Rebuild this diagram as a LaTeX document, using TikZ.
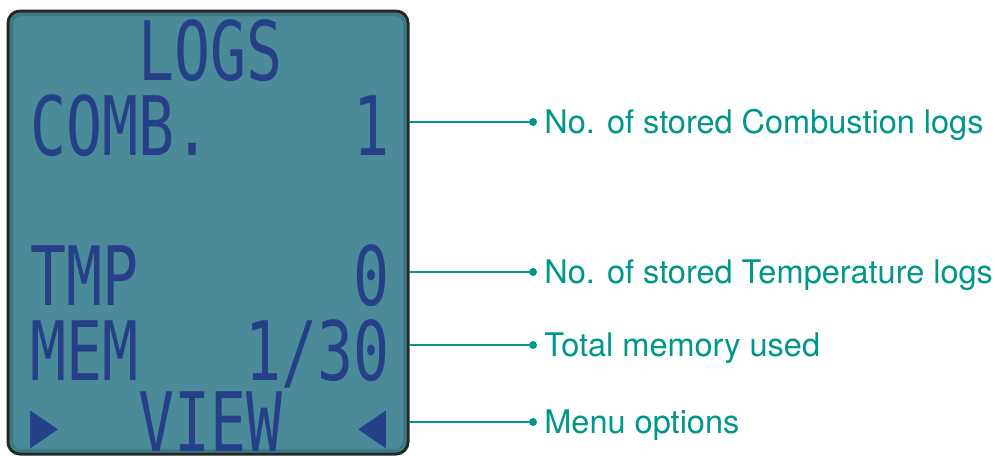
\documentclass[tikz,border=0pt]{standalone}
\usepackage{fontspec}
\setmainfont{TeX Gyre Heros}
\newfontfamily\lcdfont[FakeStretch=0.73]{DejaVu Sans Mono}
\usetikzlibrary{positioning}
\definecolor{lcdbg}{HTML}{4B8A98}
\definecolor{lcdedge}{HTML}{2F6E7C}
\definecolor{lcdink}{HTML}{254087}
\definecolor{callout}{HTML}{00968A}
\definecolor{bezel}{HTML}{262626}

\begin{document}
\begin{tikzpicture}[x=1pt,y=-1pt,
    lcd/.style={inner sep=0pt, text=lcdink, text depth=0pt, font=\lcdfont\fontsize{82}{82}\selectfont},
    leader/.style={callout, line width=2pt},
    dot/.style={circle, fill=callout, inner sep=0pt, minimum size=8pt},
    lbl/.style={text=callout, font=\fontsize{32.5}{36}\selectfont, inner sep=0pt, text height=23pt, text depth=0pt}]
    \useasboundingbox (0,0) rectangle (995,455);

    \draw[bezel, line width=3pt, fill=lcdbg, rounded corners=12pt] (8,11) rectangle (408,454);
    \draw[lcdedge, line width=3pt, opacity=0.6, rounded corners=10pt] (11.5,14.5) rectangle (404.5,450.5);

    \node[lcd, anchor=base west] (title) at (138,80) {LOGS};
    \node[lcd, anchor=base west] (comb) at (30,155) {COMB.};
    \node[lcd, anchor=base east] (combval) at (390,155) {1};
    \node[lcd, anchor=base west] (tmp) at (30,305) {TMP};
    \node[lcd, anchor=base east] (tmpval) at (390,305) {0};
    \node[lcd, anchor=base west] (mem) at (30,380) {MEM};
    \node[lcd, anchor=base east] (memval) at (390,380) {1/30};
    \node[lcd, anchor=base west] (left) at (30,446) {\fontsize{64}{64}\selectfont ▶};
    \node[lcd, anchor=base west] (view) at (138,451) {VIEW};
    \node[lcd, anchor=base east] (right) at (387,446) {\fontsize{64}{64}\selectfont ◀};

    \coordinate (s1) at (409,122);
    \coordinate (s2) at (409,272);
    \coordinate (s3) at (409,345);
    \coordinate (s4) at (409,422);
    \node[dot] (d1) at (533,122) {};
    \node[dot] (d2) at (533,272) {};
    \node[dot] (d3) at (533,345) {};
    \node[dot] (d4) at (533,422) {};
    \draw[leader] (s1) -- (d1);
    \draw[leader] (s2) -- (d2);
    \draw[leader] (s3) -- (d3);
    \draw[leader] (s4) -- (d4);

    \node[lbl, right=7pt of d1] (l1) {No. of stored Combustion logs};
    \node[lbl, right=7pt of d2] (l2) {No. of stored Temperature logs};
    \node[lbl, right=7pt of d3] (l3) {Total memory used};
    \node[lbl, right=7pt of d4] (l4) {Menu options};
\end{tikzpicture}
\end{document}
